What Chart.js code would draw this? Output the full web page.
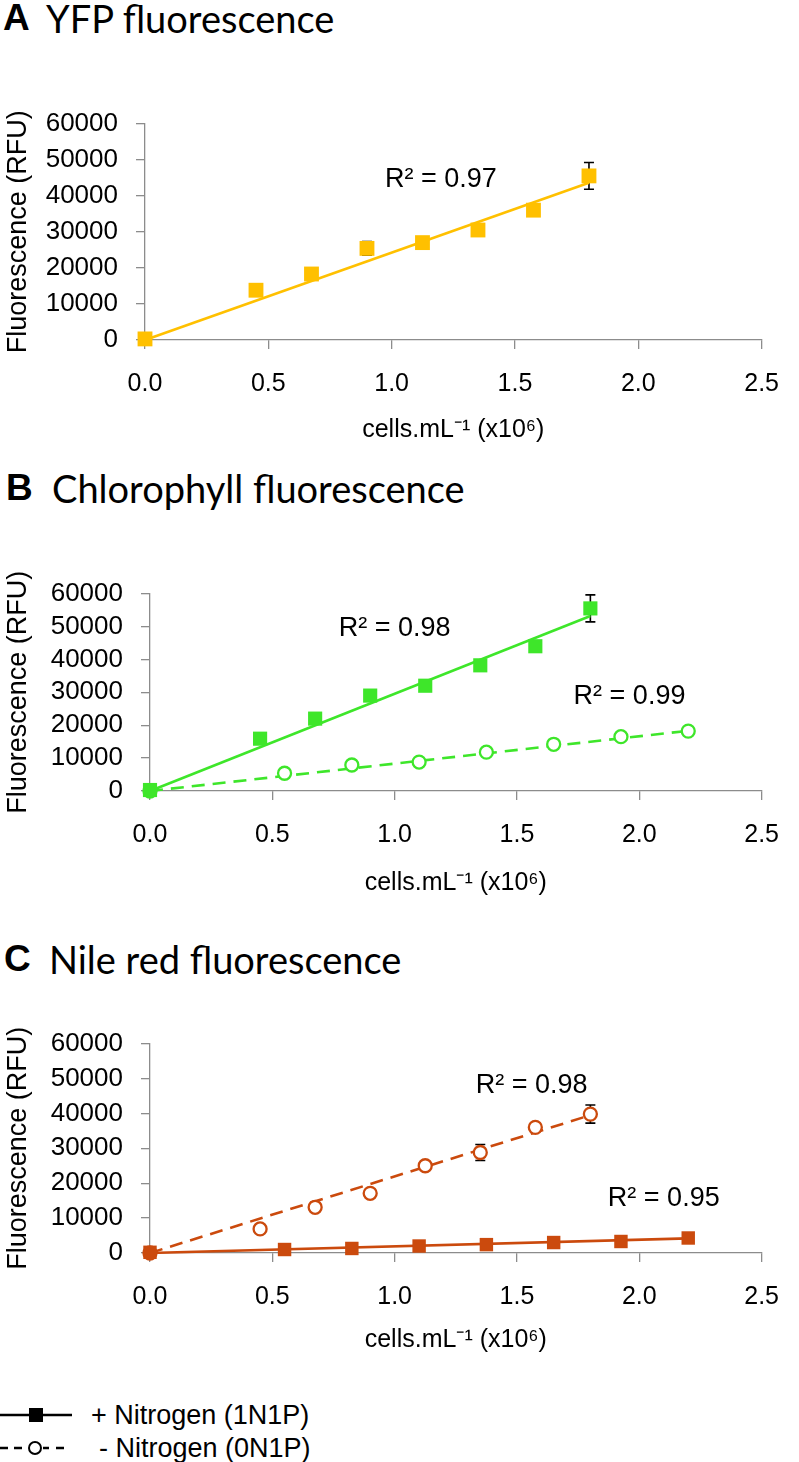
<!DOCTYPE html>
<html><head><meta charset="utf-8">
<script src="https://cdn.jsdelivr.net/npm/chart.js@4"></script>
<style>
body{margin:0;width:799px;height:1462px;background:#fff;position:relative;overflow:hidden;font-family:"Liberation Sans",Arial,sans-serif;color:#000;}
.pl{position:absolute;font-family:"Liberation Sans",Arial,sans-serif;font-weight:bold;font-size:37px;line-height:36px;white-space:nowrap;}
.pt{position:absolute;font-family:Lato,"Open Sans",sans-serif;font-size:38px;line-height:36px;white-space:nowrap;}
canvas{position:absolute;left:0;}
.lg{position:absolute;font-size:27px;line-height:30px;white-space:nowrap;}
svg{position:absolute;}
</style></head>
<body>
<div class="pl" style="left:3px;top:0px">A</div><div class="pt" style="left:46px;top:0px">YFP fluorescence</div>
<div class="pl" style="left:6px;top:470px">B</div><div class="pt" style="left:52px;top:470px">Chlorophyll fluorescence</div>
<div class="pl" style="left:4px;top:941px">C</div><div class="pt" style="left:49px;top:941px">Nile red fluorescence</div>

<div style="position:absolute;left:0;top:90px;width:799px;height:360px"><canvas id="cA" width="799" height="360"></canvas></div>
<div style="position:absolute;left:0;top:560px;width:799px;height:340px"><canvas id="cB" width="799" height="340"></canvas></div>
<div style="position:absolute;left:0;top:1010px;width:799px;height:350px"><canvas id="cC" width="799" height="350"></canvas></div>

<svg style="left:0;top:1400px" width="90" height="30"><line x1="0" y1="15" x2="72" y2="15" stroke="#000" stroke-width="2.5"/><rect x="29" y="8" width="14" height="14" fill="#000"/></svg>
<div class="lg" style="left:91px;top:1400px">+ Nitrogen (1N1P)</div>
<svg style="left:0;top:1433px" width="90" height="30"><line x1="0" y1="15" x2="22" y2="15" stroke="#000" stroke-width="2.5" stroke-dasharray="8,6"/><line x1="43" y1="15" x2="70" y2="15" stroke="#000" stroke-width="2.5" stroke-dasharray="6,7,8"/><circle cx="35" cy="15" r="6" fill="#fff" stroke="#000" stroke-width="2"/></svg>
<div class="lg" style="left:99px;top:1433px">- Nitrogen (0N1P)</div>

<script>
// ---------- data ----------
const xTicks = [0, 0.5, 1.0, 1.5, 2.0, 2.5];
const yTicks = [0, 10000, 20000, 30000, 40000, 50000, 60000];

const cellsP = [0, 0.45, 0.675, 0.9, 1.125, 1.35, 1.575, 1.8];
const cellsM = [0, 0.55, 0.825, 1.1, 1.375, 1.65, 1.925, 2.2];

// A: YFP (+N)
const yfpVals = [300, 13800, 18300, 25400, 27000, 30500, 36000, 45500];
const yfpErr  = [0, 400, 500, 1900, 600, 600, 800, 3700];
const yfpTrendX = [0, 1.8];
const yfpTrendY = [0, 43600];

// B: Chlorophyll
const chlPlusVals  = [300, 15900, 22000, 29000, 32000, 38200, 44000, 55500];
const chlPlusErr   = [0, 500, 600, 800, 700, 800, 900, 4100];
const chlPlusTrendX = [0, 1.8];
const chlPlusTrendY = [0, 53200];
const chlMinusVals = [0, 5400, 7900, 8800, 11800, 14200, 16500, 18200];
const chlMinusTrendX = [0, 2.2];
const chlMinusTrendY = [0, 18300];

// C: Nile red
const nrPlusVals  = [200, 1000, 1300, 2000, 2400, 3000, 3300, 4300];
const nrPlusTrendX = [0, 2.2];
const nrPlusTrendY = [0, 4200];
const nrMinusVals = [0, 6900, 13100, 17100, 25000, 28800, 36000, 39800];
const nrMinusErr  = [0, 700, 600, 1200, 800, 2300, 900, 2600];
const nrMinusTrendX = [0, 1.8];
const nrMinusTrendY = [0, 39500];

// R² annotations (text, anchored at data coordinates)
const rA = [{x:1.2, y:44400, t:'R² = 0.97'}];
const rB = [{x:1.0, y:49400, t:'R² = 0.98'}, {x:1.96, y:28800, t:'R² = 0.99'}];
const rC = [{x:1.56, y:48000, t:'R² = 0.98'}, {x:2.1, y:15700, t:'R² = 0.95'}];

const xTitle = 'cells.mL\u207B\u00B9 (x10\u2076)';
const yTitle = 'Fluorescence (RFU)';

const YEL = '#FFC000', GRN = '#3EE62A', RED = '#CB4A0D', AX = '#8C8C8C';
const FONT = '"Liberation Sans", Arial, sans-serif';

// ---------- helpers ----------
const pts = (xs, ys) => xs.map((x, i) => ({x, y: ys[i]}));

const errorBars = {
  id: 'errorBars',
  beforeDatasetsDraw(chart) {
    const ctx = chart.ctx, xs = chart.scales.x, ys = chart.scales.y;
    chart.data.datasets.forEach(ds => {
      if (!ds.errors) return;
      ctx.save(); ctx.strokeStyle = '#000'; ctx.lineWidth = 1.6;
      ds.data.forEach((p, i) => {
        const e = ds.errors[i]; if (!e) return;
        const x = xs.getPixelForValue(p.x);
        const y1 = ys.getPixelForValue(p.y + e), y2 = ys.getPixelForValue(p.y - e);
        ctx.beginPath();
        ctx.moveTo(x, y1); ctx.lineTo(x, y2);
        ctx.moveTo(x - 5, y1); ctx.lineTo(x + 5, y1);
        ctx.moveTo(x - 5, y2); ctx.lineTo(x + 5, y2);
        ctx.stroke();
      });
      ctx.restore();
    });
  }
};

function rPlugin(labels) {
  return {
    id: 'rlabels',
    afterDatasetsDraw(chart) {
      const ctx = chart.ctx, xs = chart.scales.x, ys = chart.scales.y;
      ctx.save();
      ctx.font = '27px ' + FONT; ctx.fillStyle = '#000';
      ctx.textAlign = 'center'; ctx.textBaseline = 'middle';
      labels.forEach(l => ctx.fillText(l.t, xs.getPixelForValue(l.x), ys.getPixelForValue(l.y)));
      ctx.restore();
    }
  };
}

function squares(data, color, errors, r) {
  return {data, showLine: false, pointStyle: 'rect', pointRadius: r, pointBackgroundColor: color,
          pointBorderWidth: 0, pointBorderColor: color, errors, clip: false};
}
function circles(data, color, errors) {
  return {data, showLine: false, pointStyle: 'circle', pointRadius: 6.5, pointBackgroundColor: '#fff',
          pointBorderWidth: 2.3, pointBorderColor: color, errors, clip: false};
}
function trend(data, color, dashed) {
  return {data, showLine: true, pointRadius: 0, borderColor: color, borderWidth: 2.6,
          borderDash: dashed ? [13, 8] : [], fill: false, clip: false};
}

function makeChart(id, datasets, labels, o) {
  new Chart(document.getElementById(id), {
    type: 'scatter',
    data: {datasets},
    plugins: [errorBars, rPlugin(labels)],
    options: {
      responsive: false, animation: false, events: [],
      layout: {padding: {top: o.top, right: o.right, bottom: 0, left: 0}},
      plugins: {legend: {display: false}, tooltip: {enabled: false}},
      scales: {
        x: {
          type: 'linear', min: 0, max: 2.5,
          afterBuildTicks: s => { s.ticks = xTicks.map(v => ({value: v})); },
          ticks: {callback: v => v.toFixed(1), font: {family: FONT, size: 25}, color: '#000', padding: o.xpad, autoSkip: false, maxRotation: 0},
          grid: {drawOnChartArea: false, drawTicks: true, tickLength: 9, color: AX, lineWidth: 1.3},
          border: {color: AX, width: 1.3},
          title: {display: true, text: xTitle, font: {family: FONT, size: 25}, color: '#000', padding: {top: 0, bottom: o.tpad}},
          afterFit: s => { s.height = o.xh; }
        },
        y: {
          type: 'linear', min: 0, max: 60000,
          afterBuildTicks: s => { s.ticks = yTicks.map(v => ({value: v})); },
          ticks: {callback: v => String(v), font: {family: FONT, size: 26}, color: '#000', padding: 18, autoSkip: false},
          grid: {drawOnChartArea: false, drawTicks: true, tickLength: 9, color: AX, lineWidth: 1.3},
          border: {color: AX, width: 1.3},
          title: {display: true, text: yTitle, font: {family: FONT, size: 27}, color: '#000', padding: {top: 2, bottom: 0}},
          afterFit: s => { s.width = o.yw; }
        }
      }
    }
  });
}

makeChart('cA', [
  squares(pts(cellsP, yfpVals), YEL, yfpErr, 10.5),
  trend(pts(yfpTrendX, yfpTrendY), YEL, false)
], rA, {top: 23, right: 29, yw: 145, xh: 110, xpad: 20, tpad: 5});

makeChart('cB', [
  squares(pts(cellsP, chlPlusVals), GRN, chlPlusErr, 10),
  circles(pts(cellsM, chlMinusVals), GRN, null),
  trend(pts(chlPlusTrendX, chlPlusTrendY), GRN, false),
  trend(pts(chlMinusTrendX, chlMinusTrendY), GRN, true)
], rB, {top: 27, right: 19, yw: 150, xh: 109, xpad: 20, tpad: 2});

makeChart('cC', [
  squares(pts(cellsM, nrPlusVals), RED, null, 9.5),
  circles(pts(cellsP, nrMinusVals), RED, nrMinusErr),
  trend(pts(nrPlusTrendX, nrPlusTrendY), RED, false),
  trend(pts(nrMinusTrendX, nrMinusTrendY), RED, true)
], rC, {top: 33, right: 19, yw: 150, xh: 107, xpad: 20, tpad: 5});
</script>
</body></html>
